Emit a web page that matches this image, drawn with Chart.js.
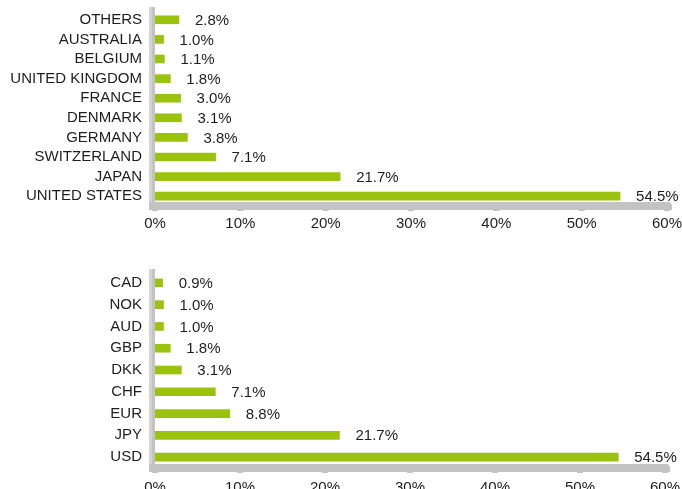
<!DOCTYPE html>
<html>
<head>
<meta charset="utf-8">
<script src="https://cdn.jsdelivr.net/npm/chart.js@4.4.0/dist/chart.umd.min.js"></script>
<style>
  html, body { margin: 0; padding: 0; background: #fff; }
  body { width: 682px; height: 489px; position: relative; overflow: hidden; }
  canvas { position: absolute; left: 0; }
  #countryChart { top: -12px; }
  #currencyChart { top: 250px; }
</style>
</head>
<body>
<canvas id="countryChart" width="691" height="254"></canvas>
<canvas id="currencyChart" width="691" height="240"></canvas>
<script>
// ── data ─────────────────────────────────────────────────────────────────────

const countryLabels = ['OTHERS', 'AUSTRALIA', 'BELGIUM', 'UNITED KINGDOM', 'FRANCE',
  'DENMARK', 'GERMANY', 'SWITZERLAND', 'JAPAN', 'UNITED STATES'];
const countryValues = [2.8, 1.0, 1.1, 1.8, 3.0, 3.1, 3.8, 7.1, 21.7, 54.5];

const currencyLabels = ['CAD', 'NOK', 'AUD', 'GBP', 'DKK', 'CHF', 'EUR', 'JPY', 'USD'];
const currencyValues = [0.9, 1.0, 1.0, 1.8, 3.1, 7.1, 8.8, 21.7, 54.5];

const axisMin = 0;
const axisMax = 60;
const axisStep = 10;

// ── style ────────────────────────────────────────────────────────────────────

const BAR_GREEN = '#9ac20f';
const WALL_GREY = '#c3c3c3';
const WALL_LIGHT = '#d3d3d3';
const TEXT = '#1e1e1e';
const FONT = { family: 'Arial, "Liberation Sans", sans-serif', size: 15 };

// grey "3D" wall + floor behind the bars
const wallPlugin = {
  id: 'wall',
  beforeDatasetsDraw(chart) {
    const { ctx, chartArea: a } = chart;
    const xs = chart.scales.x;
    ctx.save();
    // left wall
    ctx.fillStyle = WALL_LIGHT;
    ctx.fillRect(a.left - 6, a.top - 3, 3, a.bottom - a.top + 7);
    ctx.fillStyle = WALL_GREY;
    ctx.fillRect(a.left - 3, a.top - 3, 3, a.bottom - a.top + 7);
    // floor
    ctx.fillStyle = WALL_GREY;
    ctx.beginPath();
    ctx.moveTo(a.left - 6, a.bottom - 4);
    ctx.lineTo(a.right + 3, a.bottom - 4);
    ctx.lineTo(a.right + 5, a.bottom - 1);
    ctx.lineTo(a.right + 5, a.bottom + 4);
    ctx.lineTo(a.left - 6, a.bottom + 4);
    ctx.closePath();
    ctx.fill();
    // little tick bumps under the floor
    for (let v = axisMin; v <= axisMax; v += axisStep) {
      const px = xs.getPixelForValue(v);
      ctx.fillRect(px - 3, a.bottom + 4, 6, 1);
    }
    ctx.restore();
  }
};

// value labels to the right of each bar
const valueLabelPlugin = {
  id: 'valueLabels',
  afterDatasetsDraw(chart) {
    const { ctx } = chart;
    const meta = chart.getDatasetMeta(0);
    const values = chart.data.datasets[0].data;
    ctx.save();
    ctx.font = `${FONT.size}px ${FONT.family}`;
    ctx.fillStyle = TEXT;
    ctx.textAlign = 'left';
    ctx.textBaseline = 'middle';
    meta.data.forEach((bar, i) => {
      ctx.fillText(values[i].toFixed(1) + '%', bar.x + 16, bar.y + 1);
    });
    ctx.restore();
  }
};

function makeChart(id, labels, values, padTop, xHeight, tickPad) {
  return new Chart(document.getElementById(id), {
    type: 'bar',
    data: {
      labels,
      datasets: [{
        data: values,
        backgroundColor: BAR_GREEN,
        borderWidth: 0,
        barThickness: 8,
      }]
    },
    options: {
      indexAxis: 'y',
      responsive: false,
      animation: false,
      layout: { padding: { top: padTop, right: 6, left: 0, bottom: 0 } },
      plugins: { legend: { display: false }, tooltip: { enabled: false } },
      scales: {
        x: {
          min: axisMin, max: axisMax,
          grid: { display: false, drawTicks: false },
          border: { display: false },
          ticks: {
            stepSize: axisStep,
            padding: tickPad,
            color: TEXT,
            font: FONT,
            maxRotation: 0,
            callback: v => v + '%',
          },
          afterFit: s => { s.height = xHeight; },
        },
        y: {
          grid: { display: false, drawTicks: false },
          border: { display: false },
          ticks: { color: TEXT, font: FONT, padding: 13, autoSkip: false },
          afterFit: s => { s.width = 155; },
        }
      }
    },
    plugins: [wallPlugin, valueLabelPlugin]
  });
}

makeChart('countryChart', countryLabels, countryValues, 8, 36, 9);
makeChart('currencyChart', currencyLabels, currencyValues, 20, 21, 11);
</script>
</body>
</html>
